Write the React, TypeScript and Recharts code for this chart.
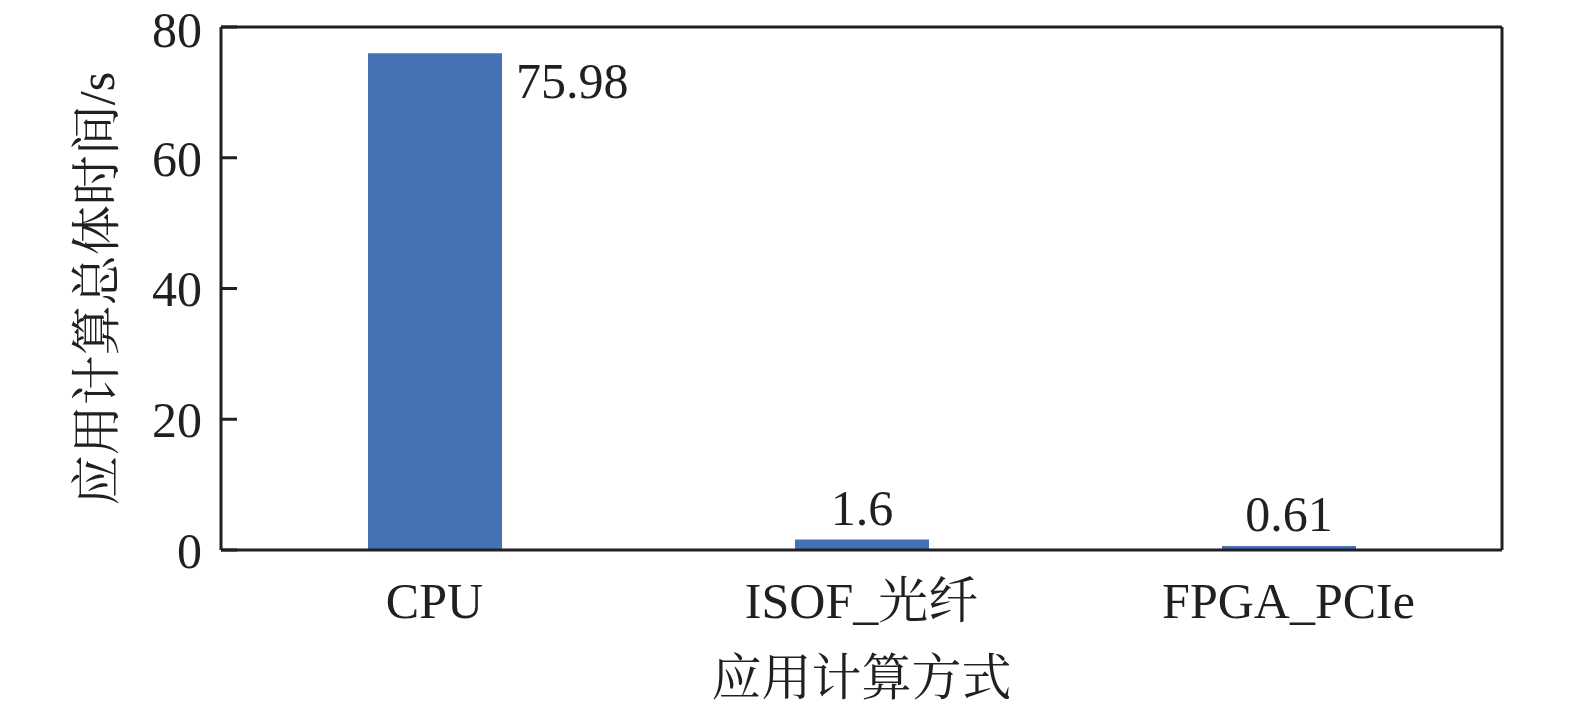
import { BarChart, Bar, XAxis, YAxis, LabelList, ReferenceLine } from 'recharts';

// 应用计算方式
const categories = ['CPU', 'ISOF_光纤', 'FPGA_PCIe'];
const times = [75.98, 1.6, 0.61];
const yTicks = [0, 20, 40, 60, 80];

const FONT = "'Liberation Serif', 'Times New Roman', 'Noto Serif CJK SC', 'Noto Sans CJK SC', serif";
const INK = '#231F20';
const BLUE = '#4472B4';
const TICK_LEN = 16;

const data = categories.map((name, i) => ({ name, time: times[i] }));

// 高柱子的数值写在右侧，矮柱子的写在上方
function ValueLabel(props: any) {
  const { x, y, width, height, value } = props;
  if (height > 100) {
    return (
      <text x={x + width + 14} y={y + 45} textAnchor="start" fontSize={50} fontFamily={FONT} fill={INK}>
        {value}
      </text>
    );
  }
  return (
    <text x={x + width / 2} y={y - 15} textAnchor="middle" fontSize={50} fontFamily={FONT} fill={INK}>
      {value}
    </text>
  );
}

// 向内的刻度线：只画参考线靠左的一小段
const innerTick = (p: any) => (
  <line x1={p.x1} x2={p.x1 + TICK_LEN} y1={p.y1} y2={p.y2} stroke={INK} strokeWidth={3} />
);

function YTitle(props: any) {
  const { viewBox } = props;
  const cx = viewBox.x + viewBox.width - 124;
  const cy = viewBox.y + viewBox.height / 2;
  return (
    <text
      x={cx}
      y={cy}
      textAnchor="middle"
      dominantBaseline="central"
      transform={`rotate(-90, ${cx}, ${cy})`}
      fontSize={50}
      fontFamily={FONT}
      fill={INK}
    >
      应用计算总体时间/s
    </text>
  );
}

export default function App() {
  const tickStyle = { fontSize: 50, fontFamily: FONT, fill: INK };
  const line = { stroke: INK, strokeWidth: 3 };
  return (
    <div style={{ width: 1575, height: 705, background: '#fff' }}>
      <style>{`body{margin:0}`}</style>
      <BarChart width={1575} height={705} data={data} margin={{ top: 26, right: 72, left: 0, bottom: 0 }}>
        <XAxis
          dataKey="name"
          height={155}
          tickLine={false}
          tickSize={0}
          tickMargin={32}
          axisLine={line}
          tick={tickStyle}
          label={{
            value: '应用计算方式',
            position: 'insideBottom',
            offset: 10,
            style: { fontSize: 50, fontFamily: FONT, fill: INK },
          }}
        />
        {/* 上边框 */}
        <XAxis xAxisId="top" dataKey="name" orientation="top" height={1} tick={false} tickLine={false} axisLine={line} />
        <YAxis
          domain={[0, 80]}
          ticks={yTicks}
          width={221}
          tickSize={0}
          tickMargin={19}
          tickLine={false}
          axisLine={line}
          tick={tickStyle}
          label={<YTitle />}
        />
        {/* 右边框 */}
        <YAxis yAxisId="right" orientation="right" width={1} tick={false} tickLine={false} axisLine={line} />
        {yTicks.map((t) => (
          <ReferenceLine key={t} y={t} shape={innerTick} ifOverflow="visible" />
        ))}
        <Bar dataKey="time" fill={BLUE} barSize={134} isAnimationActive={false}>
          <LabelList dataKey="time" content={<ValueLabel />} />
        </Bar>
      </BarChart>
    </div>
  );
}
